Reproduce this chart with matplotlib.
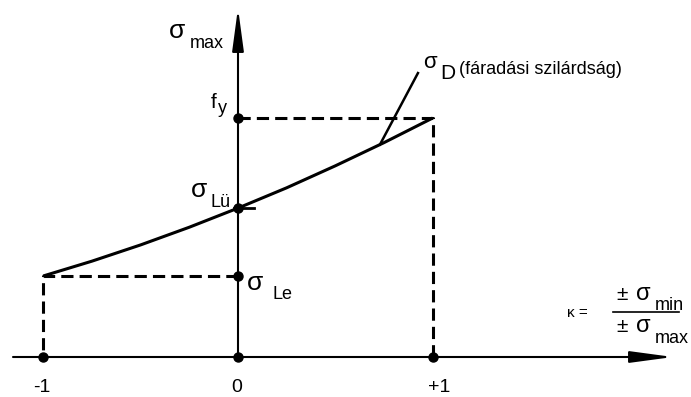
import matplotlib
matplotlib.use("Agg")
import matplotlib.pyplot as plt

plt.rcParams["font.family"] = ["Liberation Sans", "DejaVu Sans"]

# κ values on the horizontal axis and their labels
kappa_ticks = [-1, 0, 1]
kappa_labels = ["-1", "0", "+1"]

# stress levels (relative to f_y)
sigma_fy = 1.0
sigma_lu = 0.623
sigma_le = 0.339

# fatigue strength curve σ_D(κ)
curve_kappa = [-1, -0.75, -0.5, -0.25, 0, 0.25, 0.5, 0.75, 1]
curve_sigma = [0.339, 0.401, 0.469, 0.543, 0.623, 0.708, 0.800, 0.897, 1.0]

W, H = 691, 397
X0, Y0 = 238, 357          # origin in pixels
SX, SY = 194.75, 239.0     # pixels per unit

fig = plt.figure(figsize=(W / 100, H / 100), dpi=100)
ax = fig.add_axes([0, 0, 1, 1])
ax.set_xlim(-X0 / SX, (W - X0) / SX)
ax.set_ylim((Y0 - H) / SY, Y0 / SY)
ax.axis("off")


def px(x, y):
    # pixel position -> figure fraction, for labels
    return x / W, 1 - y / H


def label(x, y, s, size, **kw):
    fx, fy = px(x, y)
    fig.text(fx, fy, s, fontsize=size, va="baseline", ha=kw.pop("ha", "left"), **kw)


arrow = dict(arrowstyle="-|>,head_length=2.6,head_width=0.35", color="black",
             lw=1.5, shrinkA=0, shrinkB=0, mutation_scale=10)

# axes with arrows
ax.annotate("", xy=((673 - X0) / SX, 0), xytext=((13 - X0) / SX, 0), arrowprops=arrow)
ax.annotate("", xy=(0, (Y0 - 8) / SY), xytext=(0, 0), arrowprops=arrow)

# dashed limits
ax.plot([0, kappa_ticks[2], kappa_ticks[2]], [sigma_fy, sigma_fy, 0],
        color="black", lw=2.2, dashes=(4, 2))
ax.plot([0, kappa_ticks[0], kappa_ticks[0]], [sigma_le, sigma_le, 0],
        color="black", lw=2.2, dashes=(4, 2))

# σ_D curve
ax.plot(curve_kappa, curve_sigma, color="black", lw=2.2,
        solid_joinstyle="round", solid_capstyle="butt")
ax.plot([-0.02, 0.08], [sigma_lu, sigma_lu], color="black", lw=2.0)

# leader line to the σ_D label
ax.plot([0.729, 0.924], [0.889, 1.188], color="black", lw=1.8)

# points
ax.plot(kappa_ticks, [0, 0, 0], "o", color="black", ms=6.5)
ax.plot([0, 0, 0], [sigma_le, sigma_lu, sigma_fy], "o", color="black", ms=6.5)

# tick labels
for k, t in zip(kappa_ticks, kappa_labels):
    fx, fy = px(X0 + k * SX + (6 if k > 0 else -1), 392)
    fig.text(fx, fy, t, fontsize=14, ha="center", va="baseline")

# axis labels
label(169, 38, "σ", 19)
label(190, 48, "max", 13)
label(211, 108, "f", 15)
label(218, 113, "y", 13)
label(191, 197, "σ", 19)
label(210, 207, "Lü", 13)
label(247, 290, "σ", 19)
label(272, 299, "Le", 13)

# σ_D label
label(423, 68, "σ", 16)
label(440, 79, "D", 15)
label(459, 74, "(fáradási szilárdság)", 13)

# κ definition
label(567, 317, "κ =", 11)
label(616, 300, "±", 15)
label(636, 300, "σ", 17)
label(655, 310, "min", 13)
fig.add_artist(plt.Line2D([613 / W, 679 / W], [1 - 312 / H, 1 - 312 / H],
                          color="black", lw=1.2))
label(616, 332, "±", 15)
label(636, 332, "σ", 17)
label(655, 343, "max", 13)

fig.savefig("out.png", dpi=100, facecolor="white")
